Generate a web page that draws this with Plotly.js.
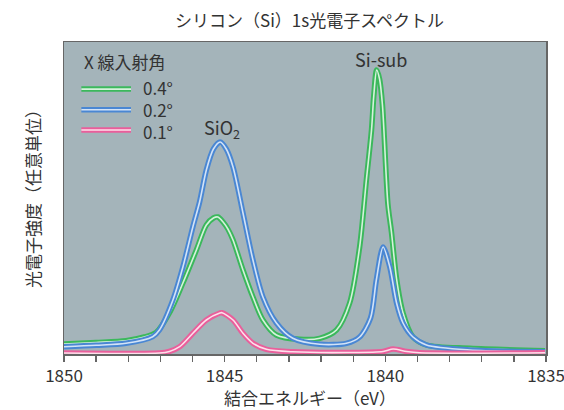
<!DOCTYPE html>
<html>
<head>
<meta charset="utf-8">
<script src="https://cdn.plot.ly/plotly-3.0.1.min.js"></script>
<style>html,body{margin:0;padding:0;background:#fff;}#chart{width:564px;height:410px;}</style>
</head>
<body>
<div id="chart"></div>
<script>
// Binding energy (eV) and photoelectron intensity (arbitrary units)
const energy04 = [1850.0,1849.0,1848.07,1847.5,1847.13,1846.72,1846.30,1845.88,1845.57,1845.35,1845.21,1845.05,1844.90,1844.74,1844.43,1844.12,1843.81,1843.39,1842.67,1842.04,1841.52,1841.11,1840.80,1840.59,1840.43,1840.36,1840.27,1840.18,1840.09,1839.92,1839.81,1839.65,1839.45,1839.14,1838.72,1837.37,1835.03];
const intensity04 = [10,11.5,13.3,17,21.7,41,71,104,129,136,137,132,125,114,84,57,34,19,14.7,15.7,24,51,107,174,224,258,284,275,249,150,122,75,41,17,9,5.7,3.3];

const energy02 = [1850.0,1849.0,1848.07,1847.24,1847.03,1846.61,1846.30,1845.99,1845.78,1845.57,1845.35,1845.14,1844.95,1844.74,1844.43,1844.12,1843.81,1843.39,1842.88,1842.04,1841.21,1840.80,1840.46,1840.28,1840.07,1839.86,1839.65,1839.45,1839.14,1838.72,1837.37,1835.03];
const intensity02 = [7.3,8.7,10.7,17.3,24,54,87,127,152,184,205,212,205,187,141,94,57,31,15.7,9.7,10.7,17,36,74,107,87,51,31,17,9,4,2.3];

const energy01 = [1850.0,1847.03,1846.72,1846.40,1845.99,1845.57,1845.15,1845.08,1844.74,1844.43,1844.12,1843.70,1842.88,1841.11,1840.07,1839.76,1839.34,1838.93,1835.03];
const intensity01 = [1.0,1.0,2.6,7.3,20.7,34,41,41.3,34,20.7,10.7,4.7,2.2,1.5,2.5,5,2.5,1.2,1.2];

const seriesNames = ['0.4°','0.2°','0.1°'];
const outerColors = ['#3bb85c','#4a87d3','#e95f9b'];
const innerColors = ['#d6f2dc','#d3e3f7','#fde0eb'];
const xTickVals = [1850,1845,1840,1835];
const xTickText = ['1850','1845','1840','1835'];

const FONT = '"Noto Sans CJK JP", "Noto Sans", sans-serif';
const TXT = '#333333';

const sets = [[energy04,intensity04],[energy02,intensity02],[energy01,intensity01]];
const traces = [];
sets.forEach((s,i)=>{
  traces.push({x:s[0],y:s[1],mode:'lines',type:'scatter',name:seriesNames[i],
    line:{color:outerColors[i],width:5.5,shape:'spline',smoothing:0.8},hoverinfo:'skip',showlegend:false});
  traces.push({x:s[0],y:s[1],mode:'lines',type:'scatter',name:seriesNames[i],
    line:{color:innerColors[i],width:1.6,shape:'spline',smoothing:0.8},hoverinfo:'skip',showlegend:false});
});

// custom legend (double-line swatches)
const legY = [0.849,0.783,0.718];
const shapes = [];
const annotations = [];
legY.forEach((y,i)=>{
  shapes.push({type:'line',xref:'paper',yref:'paper',x0:0.036,x1:0.139,y0:y,y1:y,line:{color:outerColors[i],width:5.5}});
  shapes.push({type:'line',xref:'paper',yref:'paper',x0:0.036,x1:0.139,y0:y,y1:y,line:{color:innerColors[i],width:1.6}});
});
annotations.push({xref:'paper',yref:'paper',x:0.160,y:0.783,xanchor:'left',yanchor:'middle',align:'left',showarrow:false,
  text:seriesNames.join('<br>'),font:{family:FONT,size:17,color:TXT}});
annotations.push({xref:'paper',yref:'paper',x:0.038,y:0.937,xanchor:'left',yanchor:'middle',showarrow:false,
  text:'X 線入射角',font:{family:FONT,size:17,color:TXT}});
annotations.push({xref:'paper',yref:'paper',x:0.51,y:1.072,xanchor:'center',yanchor:'middle',showarrow:false,
  text:'シリコン（Si）1s光電子スペクトル',font:{family:FONT,size:17,color:TXT}});
annotations.push({xref:'paper',yref:'paper',x:0.51,y:-0.141,xanchor:'center',yanchor:'middle',showarrow:false,
  text:'結合エネルギー（eV）',font:{family:FONT,size:17,color:TXT}});
annotations.push({xref:'paper',yref:'paper',x:-0.064,y:0.51,xanchor:'center',yanchor:'middle',showarrow:false,textangle:-90,
  text:'光電子強度（任意単位）',font:{family:FONT,size:17,color:TXT}});
annotations.push({xref:'x',yref:'y',x:1845.07,y:226,xanchor:'center',yanchor:'middle',showarrow:false,
  text:'SiO<sub>2</sub>',font:{family:FONT,size:18,color:TXT}});
annotations.push({xref:'x',yref:'y',x:1840.13,y:295,xanchor:'center',yanchor:'middle',showarrow:false,
  text:'Si-sub',font:{family:FONT,size:18,color:TXT}});

const layout = {
  width:564,height:410,
  margin:{l:64,r:18,t:42,b:56,pad:0},
  paper_bgcolor:'#ffffff',
  plot_bgcolor:'#a4b4ba',
  showlegend:false,
  font:{family:FONT,color:TXT},
  xaxis:{range:[1850,1835],tickvals:xTickVals,ticktext:xTickText,ticks:'outside',ticklen:6,tickwidth:1.3,tickcolor:'#666',
    minor:{dtick:1,ticks:'outside',ticklen:6,tickwidth:1.3,tickcolor:'#666',showgrid:false},
    ticklabeloverflow:'allow',
    showgrid:false,zeroline:false,showline:true,mirror:true,linecolor:'#666',linewidth:1.5,
    tickfont:{family:FONT,size:17,color:TXT}},
  yaxis:{range:[0,312],showticklabels:false,ticks:'',showgrid:false,zeroline:false,showline:true,mirror:true,linecolor:'#666',linewidth:1.5},
  shapes:shapes,
  annotations:annotations
};
Plotly.newPlot('chart',traces,layout,{displayModeBar:false,staticPlot:true});
</script>
</body>
</html>
